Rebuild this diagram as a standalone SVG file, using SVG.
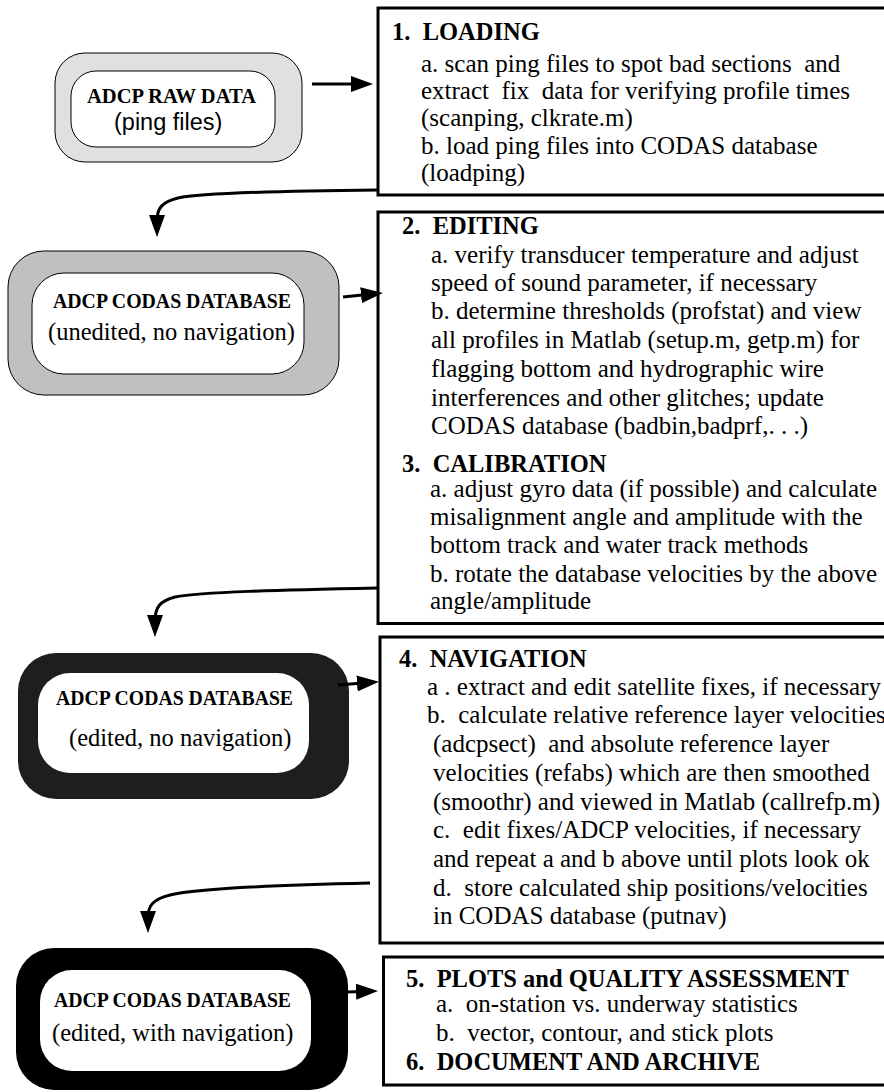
<svg xmlns="http://www.w3.org/2000/svg" width="884" height="1092" viewBox="0 0 884 1092">
<defs>
<style>
text{white-space:pre}
.box{fill:#fff;stroke:#000;stroke-width:3}
.ttl{font-family:"Liberation Serif","Times New Roman",serif;font-weight:bold;font-size:24.5px;fill:#000}
.bd{font-family:"Liberation Serif","Times New Roman",serif;font-size:25px;fill:#000}
.nb{font-family:"Liberation Serif","Times New Roman",serif;font-weight:bold;font-size:20px;fill:#000}
.ns{font-family:"Liberation Serif","Times New Roman",serif;font-size:24.5px;fill:#000}
.sans{font-family:"Liberation Sans",Arial,sans-serif;font-size:23.5px;fill:#000}
.inner{fill:#fff;stroke:#000;stroke-width:1}
.con{fill:none;stroke:#000;stroke-width:3;marker-end:url(#ah)}
</style>
<marker id="ah" viewBox="0 0 22 16" refX="6" refY="8" markerWidth="22" markerHeight="16" markerUnits="userSpaceOnUse" orient="auto">
<path d="M0,0 L22,8 L0,16 z" fill="#000"/>
</marker>
</defs>

<g id="node-raw">
<rect x="55" y="53" width="247" height="109" rx="30" fill="#e0e0e0" stroke="#000" stroke-width="1"/>
<rect class="inner" x="71" y="71" width="204" height="76" rx="25"/>
<text class="nb" x="87" y="103" textLength="169" lengthAdjust="spacingAndGlyphs">ADCP RAW DATA</text>
<text class="sans" x="114" y="130">(ping files)</text>
</g>

<g id="node-unedited">
<rect x="8" y="251" width="331" height="144" rx="36" fill="#c0c0c0" stroke="#000" stroke-width="1"/>
<rect class="inner" x="32" y="273" width="272" height="101" rx="32"/>
<text class="nb" x="53" y="308" textLength="238" lengthAdjust="spacingAndGlyphs">ADCP CODAS DATABASE</text>
<text class="ns" x="48" y="340">(unedited, no navigation)</text>
</g>

<g id="node-edited">
<rect x="18" y="653" width="331" height="146" rx="38" fill="#1e1e1e"/>
<rect x="38" y="673" width="271" height="100" rx="32" fill="#fff"/>
<text class="nb" x="56" y="705" textLength="237" lengthAdjust="spacingAndGlyphs">ADCP CODAS DATABASE</text>
<text class="ns" x="69" y="746">(edited, no navigation)</text>
</g>

<g id="node-final">
<rect x="16" y="948" width="332" height="142" rx="38" fill="#000"/>
<rect x="40" y="970" width="271" height="101" rx="32" fill="#fff"/>
<text class="nb" x="54" y="1007" textLength="237" lengthAdjust="spacingAndGlyphs">ADCP CODAS DATABASE</text>
<text class="ns" x="52" y="1041">(edited, with navigation)</text>
</g>

<g id="box-loading">
<rect class="box" x="378" y="8" width="520" height="187"/>
<text class="ttl" x="392" y="40">1.  LOADING</text>
<text class="bd" x="421" y="72">a. scan ping files to spot bad sections  and</text>
<text class="bd" x="421" y="99">extract  fix  data for verifying profile times</text>
<text class="bd" x="421" y="126">(scanping, clkrate.m)</text>
<text class="bd" x="421" y="153.5">b. load ping files into CODAS database</text>
<text class="bd" x="421" y="181">(loadping)</text>
</g>

<g id="box-editing">
<rect class="box" x="378" y="212" width="520" height="411.5"/>
<text class="ttl" x="402" y="234">2.  EDITING</text>
<text class="bd" x="431" y="263">a. verify transducer temperature and adjust</text>
<text class="bd" x="431" y="291">speed of sound parameter, if necessary</text>
<text class="bd" x="431" y="319">b. determine thresholds (profstat) and view</text>
<text class="bd" x="431" y="348">all profiles in Matlab (setup.m, getp.m) for</text>
<text class="bd" x="431" y="377">flagging bottom and hydrographic wire</text>
<text class="bd" x="431" y="406">interferences and other glitches; update</text>
<text class="bd" x="431" y="434">CODAS database (badbin,badprf,. . .)</text>
<text class="ttl" x="402" y="472">3.  CALIBRATION</text>
<text class="bd" x="430" y="497">a. adjust gyro data (if possible) and calculate</text>
<text class="bd" x="430" y="525">misalignment angle and amplitude with the</text>
<text class="bd" x="430" y="553">bottom track and water track methods</text>
<text class="bd" x="430" y="582">b. rotate the database velocities by the above</text>
<text class="bd" x="430" y="609">angle/amplitude</text>
</g>

<g id="box-navigation">
<rect class="box" x="380" y="637" width="520" height="306"/>
<text class="ttl" x="399" y="667">4.  NAVIGATION</text>
<text class="bd" x="427" y="695">a . extract and edit satellite fixes, if necessary</text>
<text class="bd" x="427" y="723">b.  calculate relative reference layer velocities</text>
<text class="bd" x="433" y="752">(adcpsect)  and absolute reference layer</text>
<text class="bd" x="433" y="781">velocities (refabs) which are then smoothed</text>
<text class="bd" x="433" y="810">(smoothr) and viewed in Matlab (callrefp.m)</text>
<text class="bd" x="433" y="838">c.  edit fixes/ADCP velocities, if necessary</text>
<text class="bd" x="433" y="867">and repeat a and b above until plots look ok</text>
<text class="bd" x="433" y="896">d.  store calculated ship positions/velocities</text>
<text class="bd" x="433" y="924">in CODAS database (putnav)</text>
</g>

<g id="box-plots">
<rect class="box" x="383.5" y="957" width="520" height="128"/>
<text class="ttl" x="406" y="987">5.  PLOTS and QUALITY ASSESSMENT</text>
<text class="bd" x="436" y="1012">a.  on-station vs. underway statistics</text>
<text class="bd" x="436" y="1041">b.  vector, contour, and stick plots</text>
<text class="ttl" x="406" y="1070">6.  DOCUMENT AND ARCHIVE</text>
</g>

<g id="connectors">
<path class="con" d="M312,84 L357,84"/>
<path class="con" d="M378,190 C280,191 200,193 178,198 C162,202 157,208 157,221"/>
<path class="con" d="M343,297 L367,294.6"/>
<path class="con" d="M378,588 C280,590 200,592 175,597 C160,601 155,607 155,621"/>
<path class="con" d="M338,685 L363,683"/>
<path class="con" d="M370,883 C280,885 200,888 170,895 C154,899 148,905 148,917"/>
<path class="con" d="M347,992 L362,991.5"/>
</g>
</svg>
